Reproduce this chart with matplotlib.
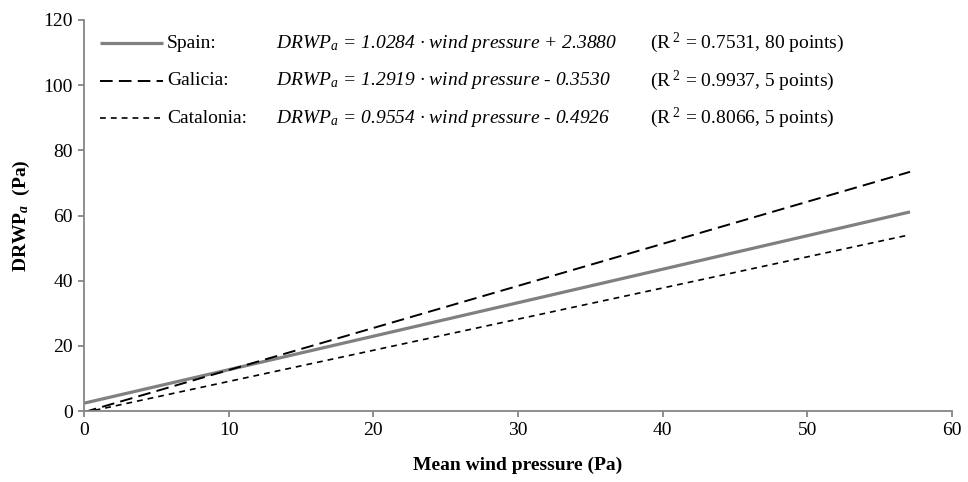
import matplotlib
matplotlib.use("Agg")
import matplotlib.pyplot as plt

plt.rcParams["font.family"] = ["Liberation Serif", "DejaVu Serif"]
plt.rcParams["mathtext.fontset"] = "custom"
plt.rcParams["mathtext.rm"] = "Liberation Serif"
plt.rcParams["mathtext.it"] = "Liberation Serif:italic"
plt.rcParams["mathtext.bf"] = "Liberation Serif:bold"
plt.rcParams["mathtext.bfit"] = "Liberation Serif:italic:bold"

# fitted lines, end points
x_ends = [0.0, 57.1]
spain_y = [2.39, 61.1]
galicia_y = [-0.35, 73.4]
catalonia_y = [-0.49, 54.1]

regions = ["Spain:", "Galicia:", "Catalonia:"]
equations = [r"DRWP$_a$ = 1.0284 · wind pressure + 2.3880",
             r"DRWP$_a$ = 1.2919 · wind pressure - 0.3530",
             r"DRWP$_a$ = 0.9554 · wind pressure - 0.4926"]
fit_stats = [r"(R$^{\ 2}$ = 0.7531, 80 points)",
             r"(R$^{\ 2}$ = 0.9937, 5 points)",
             r"(R$^{\ 2}$ = 0.8066, 5 points)"]

x_ticks = [0, 10, 20, 30, 40, 50, 60]
y_ticks = [0, 20, 40, 60, 80, 100, 120]

GREY = "#868686"
FS = 14
styles = [dict(color="#808080", lw=2.3, ls="-"),
          dict(color="black", lw=1.4, dashes=(6.5, 3.2)),
          dict(color="black", lw=1.2, dashes=(3.5, 3.0))]

fig = plt.figure(figsize=(9.68, 4.82), dpi=100)
ax = fig.add_axes([84 / 968, 71 / 482, 868 / 968, 391 / 482])

for ys, st in zip([spain_y, galicia_y, catalonia_y], styles):
    ax.plot(x_ends, ys, **st, solid_capstyle="butt", dash_capstyle="butt")

ax.set_xlim(0, 60)
ax.set_ylim(0, 120)
ax.set_xticks(x_ticks)
ax.set_yticks(y_ticks)
ax.tick_params(labelsize=FS, color=GREY, width=1.3, length=4, direction="out", pad=4)
for side in ("top", "right"):
    ax.spines[side].set_visible(False)
for side in ("left", "bottom"):
    ax.spines[side].set_color(GREY)
    ax.spines[side].set_linewidth(1.3)

ax.set_xlabel("Mean wind pressure (Pa)", fontsize=FS, fontweight="bold", labelpad=13)
ax.set_ylabel(r"DRWP$_{\mathbfit{a}}$  (Pa)", fontsize=FS, fontweight="bold", labelpad=8)

# hand-made legend in axes coordinates
row_y = [0.941, 0.844, 0.749]
for i, st in enumerate(styles):
    y = row_y[i]
    ax.plot([0.0184, 0.091], [y, y], transform=ax.transAxes, clip_on=False,
            solid_capstyle="butt", dash_capstyle="butt", **st)
    ax.text(0.0956, y, regions[i], transform=ax.transAxes, fontsize=FS, va="center")
    ax.text(0.221, y, equations[i], transform=ax.transAxes, fontsize=FS,
            va="center", style="italic")
    ax.text(0.652, y, fit_stats[i], transform=ax.transAxes, fontsize=FS, va="center")

fig.savefig("out.png", dpi=100)
